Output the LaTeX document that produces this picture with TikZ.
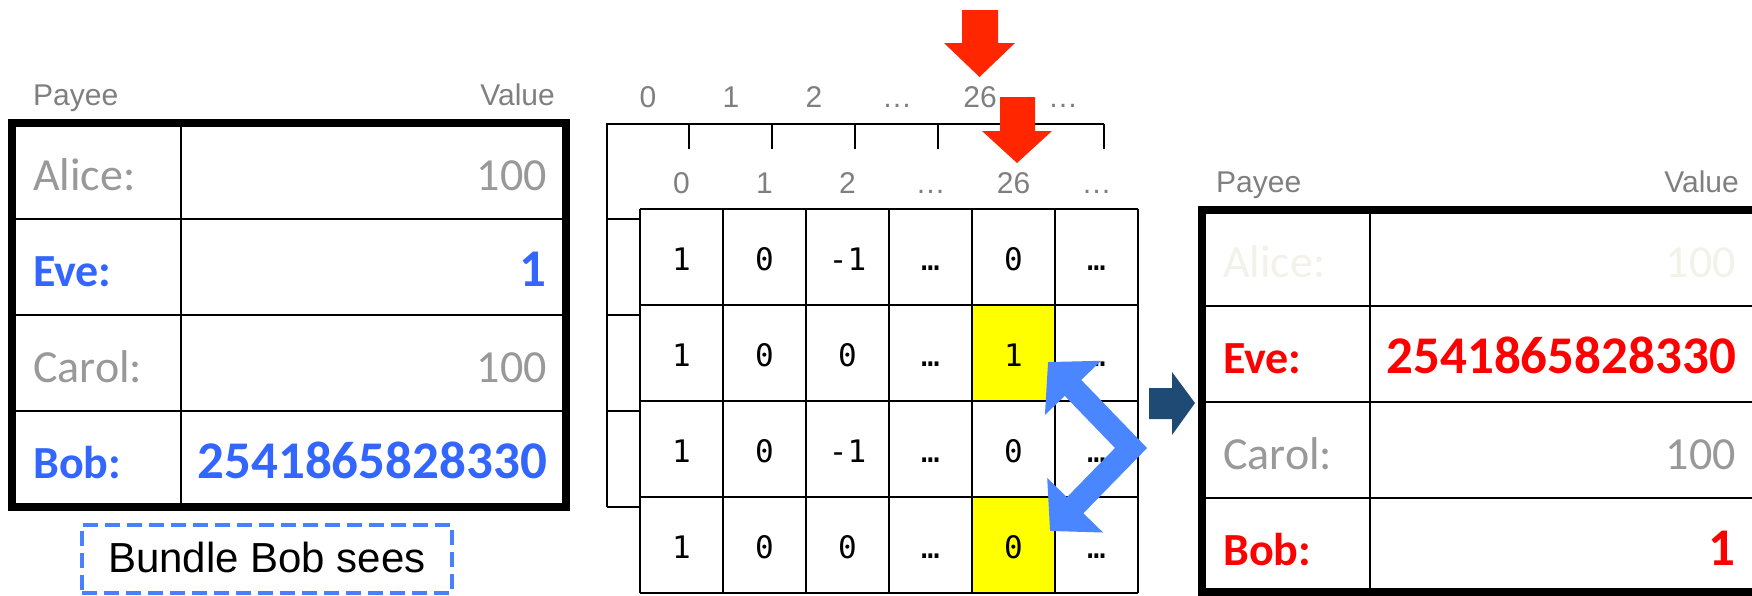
\documentclass[tikz,border=0pt]{standalone}
\usepackage{fontspec}
\setmainfont{Liberation Sans}
\newfontfamily\calfont{Carlito}
\newfontfamily\matfont{DejaVu Sans Mono}
\usetikzlibrary{arrows.meta}
\definecolor{blueT}{HTML}{3366FF}
\definecolor{redT}{HTML}{FF0000}
\definecolor{grayT}{HTML}{999999}
\definecolor{grayL}{HTML}{7F7F7F}
\definecolor{faint}{HTML}{F2F2EA}
\definecolor{redA}{HTML}{FF2600}
\definecolor{blueA}{HTML}{4A86FF}
\definecolor{navyA}{HTML}{1F4A73}
\definecolor{yellowC}{HTML}{FFFF00}
\definecolor{dashB}{HTML}{4A80FF}
\begin{document}
\begin{tikzpicture}[x=1pt,y=-1pt,
  thickb/.style={line width=8pt},
  gridl/.style={line width=2.6pt},
  lbl/.style={inner sep=0pt, text=grayL, font=\fontsize{30}{32}\selectfont},
  nameR/.style={inner sep=0pt, anchor=base west, text=grayT, font=\calfont\fontsize{46}{48}\selectfont},
  valR/.style={inner sep=0pt, anchor=base east, text=grayT, font=\calfont\fontsize{46}{48}\selectfont},
  nameB/.style={inner sep=0pt, anchor=base west, font=\calfont\bfseries\fontsize{46}{48}\selectfont},
  valB/.style={inner sep=0pt, anchor=base east, font=\calfont\bfseries\fontsize{53}{55}\selectfont},
  mat/.style={inner sep=0pt, anchor=base, font=\matfont\fontsize{31}{33}\selectfont}]
\useasboundingbox (0,0) rectangle (1752,595);

% ---------- left table ----------
\node[lbl, anchor=base west] (lpayee) at (33,105) {Payee};
\node[lbl, anchor=base east] (lvalue) at (555,105) {Value};
\foreach \y in {219,315,411} \draw[gridl] (12,\y) -- (566,\y);
\draw[gridl] (181,123) -- (181,507);
\draw[thickb] (12,123) rectangle (566,507);
\node[nameR] (lalice) at (33,190) {Alice:};
\node[valR] (lalicev) at (547,190) {100};
\node[nameB, text=blueT] (leve) at (33,286) {Eve:};
\node[valB, text=blueT] (levev) at (547,286) {1};
\node[nameR] (lcarol) at (33,382) {Carol:};
\node[valR] (lcarolv) at (547,382) {100};
\node[nameB, text=blueT] (lbob) at (33,478) {Bob:};
\node[valB, text=blueT] (lbobv) at (547,478) {2541865828330};

\node[draw=dashB, line width=4pt, dash pattern=on 15pt off 7pt,
      minimum width=370pt, minimum height=68pt, inner sep=0pt,
      text depth=4pt,
      font=\fontsize{42}{44}\selectfont] (bundle) at (267,559) {Bundle Bob sees};

% ---------- matrix ----------
\fill[yellowC] (972,305) rectangle (1055,401);
\fill[yellowC] (972,497) rectangle (1055,593);
\draw[gridl] (607,507) -- (607,124) -- (1104,124);
\foreach \x in {689,772,855,938,1021,1104} \draw[gridl] (\x,124) -- (\x,149);
\foreach \y in {219,315,411,507} \draw[gridl] (607,\y) -- (640,\y);
\foreach \x in {640,723,806,889,972,1055,1138} \draw[gridl] (\x,209) -- (\x,593);
\foreach \y in {209,305,401,497,593} \draw[gridl] (640,\y) -- (1138,\y);

\foreach \t [count=\i from 0] in {0,1,2,…,26,…}
  \node[lbl, anchor=base] (ta\i) at ({648+83*\i},107) {\t};
\foreach \t [count=\i from 0] in {0,1,2,…,26,…}
  \node[lbl, anchor=base] (tb\i) at ({681.5+83*\i},193) {\t};

\foreach \t [count=\i from 0] in {1,0,-1,…,0,…}
  \node[mat] (ma\i) at ({681.5+83*\i},270) {\t};
\foreach \t [count=\i from 0] in {1,0,0,…,1,…}
  \node[mat] (mb\i) at ({681.5+83*\i},366) {\t};
\foreach \t [count=\i from 0] in {1,0,-1,…,0,…}
  \node[mat] (mc\i) at ({681.5+83*\i},462) {\t};
\foreach \t [count=\i from 0] in {1,0,0,…,0,…}
  \node[mat] (md\i) at ({681.5+83*\i},558) {\t};

% red arrows
\fill[redA] (962,10) -- (998,10) -- (998,43) -- (1015,43) -- (979.5,77) -- (944,43) -- (962,43) -- cycle;
\fill[redA] (1000,97) -- (1035,97) -- (1035,131) -- (1052,131) -- (1017,163) -- (982,131) -- (1000,131) -- cycle;

% blue chevron double arrow
\draw[blueA, line width=23pt, line join=miter,
  {Triangle[width=76pt,length=36pt]}-{Triangle[width=76pt,length=36pt]}]
  (1048,362) -- (1131,448) -- (1050,531);

% navy arrow
\fill[navyA] (1149,388) -- (1172,388) -- (1172,372) -- (1195,403) -- (1172,435) -- (1172,419) -- (1149,419) -- cycle;

% ---------- right table ----------
\node[lbl, anchor=base west] (rpayee) at (1216,192) {Payee};
\node[lbl, anchor=base east] (rvalue) at (1739,192) {Value};
\foreach \y in {306,402,498} \draw[gridl] (1202,\y) -- (1766,\y);
\draw[gridl] (1370,210) -- (1370,592);
\draw[thickb] (1202,210) rectangle (1766,592);
\node[nameR, text=faint] (ralice) at (1223,277) {Alice:};
\node[valR, text=faint] (ralicev) at (1736,277) {100};
\node[nameB, text=redT] (reve) at (1223,373) {Eve:};
\node[valB, text=redT] (revev) at (1736,373) {2541865828330};
\node[nameR] (rcarol) at (1223,469) {Carol:};
\node[valR] (rcarolv) at (1736,469) {100};
\node[nameB, text=redT] (rbob) at (1223,565) {Bob:};
\node[valB, text=redT] (rbobv) at (1736,565) {1};
\end{tikzpicture}
\end{document}
